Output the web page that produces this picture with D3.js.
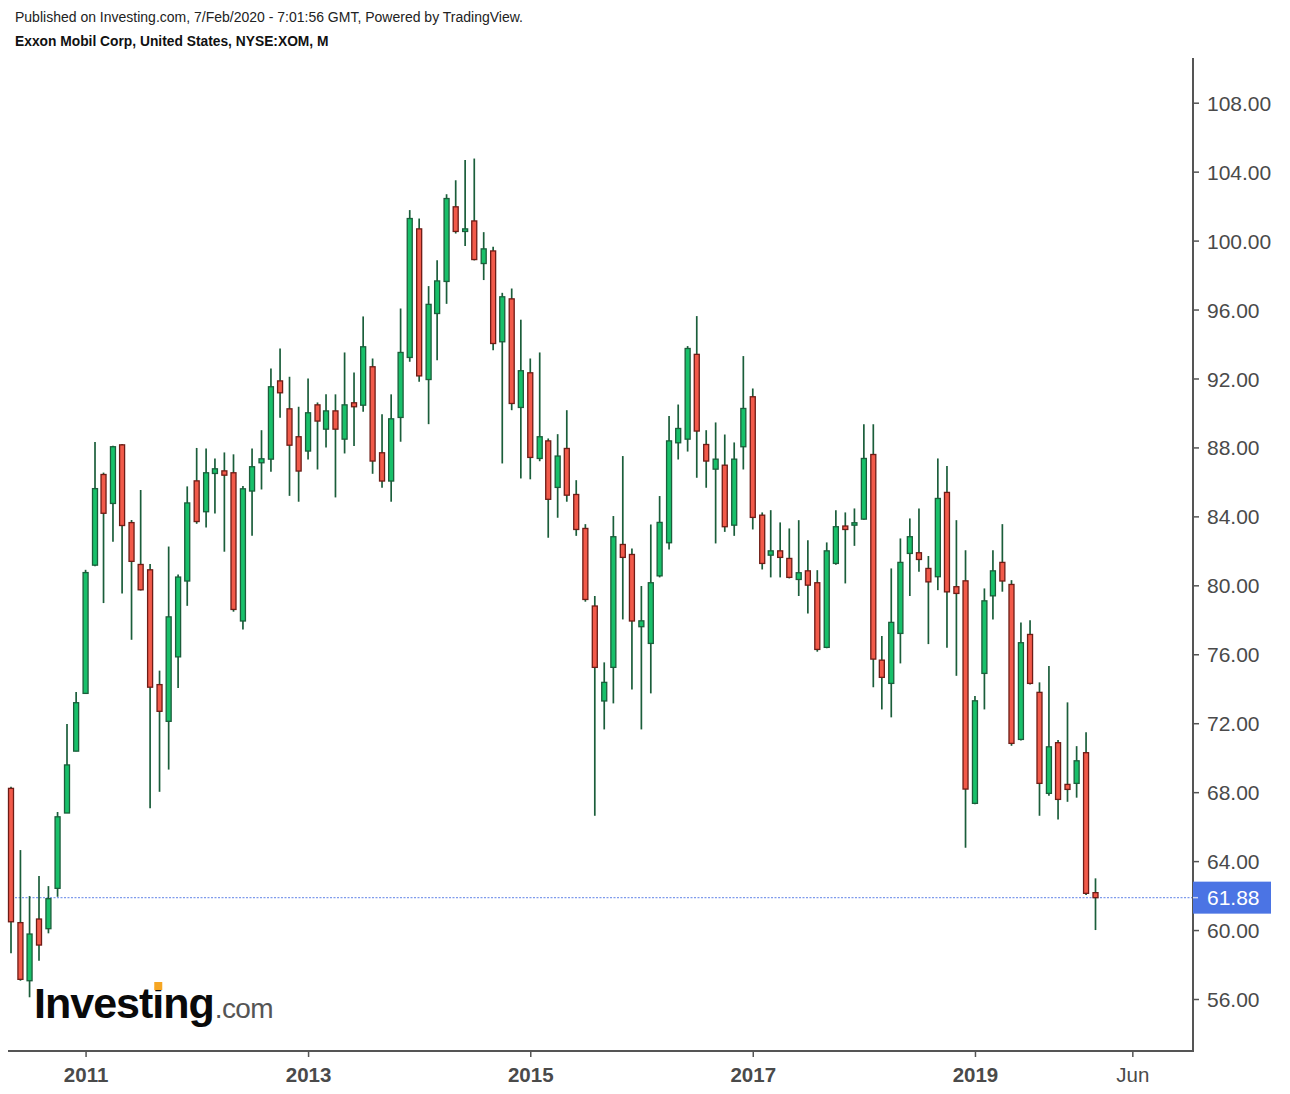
<!DOCTYPE html>
<html><head><meta charset="utf-8">
<script src="https://cdn.jsdelivr.net/npm/d3@7"></script>
<style>
html,body{margin:0;padding:0;background:#fff;}
svg{display:block;font-family:"Liberation Sans",Arial,Helvetica,sans-serif;}
</style></head><body>
<svg id="chart" width="1290" height="1094"></svg>
<script>
// ---- data (monthly OHLC, XOM) ----
const months = [
 "2010-05","2010-06","2010-07","2010-08","2010-09","2010-10","2010-11","2010-12",
 "2011-01","2011-02","2011-03","2011-04","2011-05","2011-06","2011-07","2011-08","2011-09","2011-10","2011-11","2011-12",
 "2012-01","2012-02","2012-03","2012-04","2012-05","2012-06","2012-07","2012-08","2012-09","2012-10","2012-11","2012-12",
 "2013-01","2013-02","2013-03","2013-04","2013-05","2013-06","2013-07","2013-08","2013-09","2013-10","2013-11","2013-12",
 "2014-01","2014-02","2014-03","2014-04","2014-05","2014-06","2014-07","2014-08","2014-09","2014-10","2014-11","2014-12",
 "2015-01","2015-02","2015-03","2015-04","2015-05","2015-06","2015-07","2015-08","2015-09","2015-10","2015-11","2015-12",
 "2016-01","2016-02","2016-03","2016-04","2016-05","2016-06","2016-07","2016-08","2016-09","2016-10","2016-11","2016-12",
 "2017-01","2017-02","2017-03","2017-04","2017-05","2017-06","2017-07","2017-08","2017-09","2017-10","2017-11","2017-12",
 "2018-01","2018-02","2018-03","2018-04","2018-05","2018-06","2018-07","2018-08","2018-09","2018-10","2018-11","2018-12",
 "2019-01","2019-02","2019-03","2019-04","2019-05","2019-06","2019-07","2019-08","2019-09","2019-10","2019-11","2019-12",
 "2020-01","2020-02"];
const opens = [
 68.22,60.43,57.06,60.64,60.08,62.42,66.79,70.38,
 73.73,81.17,86.43,84.75,88.15,83.64,81.21,80.90,74.24,72.11,75.85,80.25,
 86.06,84.27,86.49,86.64,86.53,77.93,85.47,87.11,87.32,91.86,90.24,88.62,
 87.79,90.47,89.06,90.12,88.48,90.59,90.45,92.68,87.69,86.05,89.74,93.22,
 100.68,91.94,95.77,97.63,101.96,100.53,101.14,98.67,99.40,94.13,96.62,90.32,
 92.33,87.36,88.38,85.68,87.94,85.27,83.30,78.80,73.29,75.24,82.37,81.79,
 77.60,76.63,80.55,82.47,88.27,88.48,93.40,88.17,86.74,86.97,83.49,88.04,
 90.94,84.07,81.75,82.00,81.56,80.34,80.84,80.15,76.40,81.27,83.44,83.49,
 83.84,87.59,75.66,74.31,77.21,81.85,81.89,80.98,80.50,85.39,79.92,80.26,
 67.35,74.89,79.39,81.33,80.05,71.06,77.15,73.79,67.93,70.87,68.45,68.51,
 70.29,62.17];
const highs = [
 68.32,64.64,61.97,63.13,62.55,66.85,71.95,73.81,
 80.90,88.32,86.54,88.10,88.20,83.79,85.53,81.24,75.05,82.25,80.63,85.74,
 87.97,87.94,87.36,87.71,87.60,85.76,87.94,89.00,92.58,93.74,92.10,90.36,
 92.00,90.61,91.08,91.08,93.51,92.35,95.60,93.16,89.92,91.08,96.06,101.77,
 101.28,97.36,98.86,102.69,103.50,104.67,104.76,100.49,99.64,96.97,97.22,95.41,
 93.16,93.51,88.52,88.77,90.16,86.10,83.55,79.38,75.53,84.02,87.50,82.14,
 79.96,83.53,85.18,89.82,90.49,93.88,95.62,89.00,89.45,88.75,88.29,93.30,
 91.42,84.23,84.36,83.65,83.30,83.78,82.62,80.88,82.49,84.36,84.23,84.46,
 89.35,89.35,77.06,80.98,82.72,83.88,84.46,81.70,87.36,86.92,83.78,82.04,
 73.58,79.82,82.04,83.55,80.30,77.85,77.98,74.37,75.32,71.02,73.21,70.67,
 71.47,63.00];
const lows = [
 58.65,57.06,56.10,58.22,59.81,61.93,66.79,70.38,
 73.73,81.10,78.97,82.53,79.52,76.84,79.70,67.07,68.02,69.31,74.04,78.81,
 83.57,83.36,84.17,81.95,78.47,77.44,82.87,85.56,86.59,89.72,85.19,84.85,
 87.30,86.72,88.00,85.10,87.65,88.09,90.07,86.47,85.66,84.85,88.33,92.97,
 91.81,89.35,93.06,96.33,100.41,99.69,98.85,97.71,93.64,87.07,90.16,86.20,
 86.15,87.20,82.76,83.92,84.85,82.87,79.05,66.63,71.64,73.15,78.02,73.96,
 71.64,73.73,80.46,82.08,87.30,87.76,86.24,85.66,82.43,83.10,82.87,86.72,
 83.24,80.92,80.46,80.46,80.40,79.38,78.37,76.15,76.35,81.20,80.11,82.29,
 83.80,74.08,72.80,72.34,75.47,79.38,80.79,76.59,79.72,76.38,74.75,64.78,
 67.30,72.80,78.02,79.63,70.69,71.00,74.25,66.63,67.79,66.42,67.44,67.68,
 62.03,60.00];
const closes = [
 60.48,57.14,59.77,59.13,61.82,66.57,69.58,73.19,
 80.74,85.61,84.18,88.04,83.47,81.39,79.74,74.09,72.69,78.17,80.48,84.78,
 83.70,86.53,86.76,86.39,78.60,85.60,86.88,87.34,91.52,91.17,88.13,86.63,
 90.01,89.53,90.12,89.06,90.47,90.36,93.84,87.21,86.05,89.66,93.51,101.28,
 92.15,96.30,97.66,102.44,100.53,100.68,98.90,99.52,94.03,96.74,90.55,92.45,
 87.42,88.62,84.99,87.50,85.23,83.24,79.18,75.24,74.37,82.82,81.62,77.93,
 77.94,80.15,83.65,88.38,89.10,93.74,88.95,87.21,87.32,83.40,87.32,90.26,
 83.94,81.27,82.00,81.62,80.46,80.73,80.01,76.28,82.00,83.40,83.24,83.63,
 87.36,75.72,74.66,77.85,81.33,82.82,81.50,80.20,85.04,79.62,79.53,68.18,
 73.30,79.10,80.84,80.25,70.83,76.67,74.31,68.51,70.63,67.58,68.16,69.82,
 62.13,61.88];
const yTicks = [56,60,64,68,72,76,80,84,88,92,96,100,104,108];
const xTickDates = ["2011-01-01","2013-01-01","2015-01-01","2017-01-01","2019-01-01","2020-06-01"];
const xTickLabels = ["2011","2013","2015","2017","2019","Jun"];
const lastPrice = 61.88;

// ---- drawing ----
const svg = d3.select("#chart");
const W = 1290, H = 1094;
const plot = {left: 8, right: 1193, top: 58, bottom: 1051};

const parse = d3.utcParse("%Y-%m");
const parseDay = d3.utcParse("%Y-%m-%d");
const data = months.map((m, i) => ({date: parse(m), o: opens[i], h: highs[i], l: lows[i], c: closes[i]}));

const x = d3.scaleUtc().domain([parse("2010-05"), parse("2020-02")]).range([11, 1095.5]);
const y = d3.scaleLinear().domain([56, 108]).range([999, 102.7]);

svg.append("rect").attr("width", W).attr("height", H).attr("fill", "#fff");

// header
svg.append("text").attr("x", 15).attr("y", 22).attr("font-size", 14).attr("fill", "#222")
  .text("Published on Investing.com, 7/Feb/2020 - 7:01:56 GMT, Powered by TradingView.");
svg.append("text").attr("x", 15).attr("y", 46).attr("font-size", 13.8).attr("font-weight", "bold").attr("fill", "#111")
  .text("Exxon Mobil Corp, United States, NYSE:XOM, M");

// logo
const logo = svg.append("g");
const inv = logo.append("text").attr("x", 34).attr("y", 1018).attr("font-size", 43).attr("font-weight", "bold")
  .attr("letter-spacing", -1).attr("fill", "#0a0a0a").text("Investing");
const invLen = inv.node().getComputedTextLength();
logo.append("text").attr("x", 34 + invLen + 1).attr("y", 1018).attr("font-size", 28).attr("fill", "#555")
  .attr("letter-spacing", -0.6).text(".com");
try {
  const p = inv.node().getStartPositionOfChar(6);
  logo.append("rect").attr("x", p.x + 2).attr("y", 982).attr("width", 8).attr("height", 8)
    .attr("fill", "#f6a623");
} catch (e) {}

// last price dotted line
svg.append("line").attr("x1", plot.left).attr("x2", plot.right)
  .attr("y1", y(lastPrice)).attr("y2", y(lastPrice))
  .attr("stroke", "#7f9bec").attr("stroke-width", 1.2).attr("stroke-dasharray", "2,1.5");

// candles
const upFill = "#18c06a", upStroke = "#1b5e3b";
const dnFill = "#f25a4a", dnStroke = "#6e1c16";
const wickColor = "#1b5e3b";
const bw = 5;
const g = svg.append("g");
const cg = g.selectAll("g.c").data(data).join("g").attr("class", "c");
cg.append("line")
  .attr("x1", d => x(d.date)).attr("x2", d => x(d.date))
  .attr("y1", d => y(d.h)).attr("y2", d => y(d.l))
  .attr("stroke", wickColor).attr("stroke-width", 1.7);
cg.append("rect")
  .attr("x", d => x(d.date) - bw / 2)
  .attr("y", d => y(Math.max(d.o, d.c)))
  .attr("width", bw)
  .attr("height", d => Math.max(1, Math.abs(y(d.o) - y(d.c))))
  .attr("fill", d => d.c >= d.o ? upFill : dnFill)
  .attr("stroke", d => d.c >= d.o ? upStroke : dnStroke)
  .attr("stroke-width", 1.3);

// axes
const axisColor = "#555";
const yAxis = d3.axisRight(y).tickValues(yTicks).tickFormat(d3.format(".2f")).tickSize(6).tickPadding(8);
const ya = svg.append("g").attr("transform", `translate(${plot.right},0)`).call(yAxis);
ya.select(".domain").remove();
ya.selectAll(".tick line").attr("stroke", axisColor).attr("stroke-width", 1.5);
ya.selectAll(".tick text").attr("font-size", 21).attr("fill", "#4a4a4a")
  .attr("font-family", "\"Liberation Sans\",Arial,sans-serif").attr("dy", "0.36em");

const xAxis = d3.axisBottom(x).tickValues(xTickDates.map(parseDay))
  .tickFormat((d, i) => xTickLabels[i]).tickSize(6).tickPadding(10);
const xa = svg.append("g").attr("transform", `translate(0,${plot.bottom})`).call(xAxis);
xa.select(".domain").remove();
xa.selectAll(".tick line").attr("stroke", axisColor).attr("stroke-width", 1.5);
xa.selectAll(".tick text").attr("font-size", 20.5).attr("fill", "#4a4a4a")
  .attr("font-family", "\"Liberation Sans\",Arial,sans-serif")
  .attr("font-weight", (d, i) => xTickLabels[i] === "Jun" ? "normal" : "bold")
  .attr("dy", "0.71em");

svg.append("line").attr("x1", plot.right).attr("x2", plot.right).attr("y1", plot.top).attr("y2", plot.bottom + 1)
  .attr("stroke", axisColor).attr("stroke-width", 2);
svg.append("line").attr("x1", plot.left).attr("x2", plot.right + 1).attr("y1", plot.bottom).attr("y2", plot.bottom)
  .attr("stroke", axisColor).attr("stroke-width", 2);

// last price label
const ly = y(lastPrice);
svg.append("rect").attr("x", plot.right).attr("y", ly - 16).attr("width", 78).attr("height", 32)
  .attr("fill", "#4b74e4");
svg.append("line").attr("x1", plot.right).attr("x2", plot.right + 5).attr("y1", ly).attr("y2", ly)
  .attr("stroke", "#c9d5f7").attr("stroke-width", 1.5);
svg.append("text").attr("x", plot.right + 14).attr("y", ly).attr("dy", "0.36em")
  .attr("font-size", 21).attr("fill", "#fff").text(d3.format(".2f")(lastPrice));
</script>
</body></html>
